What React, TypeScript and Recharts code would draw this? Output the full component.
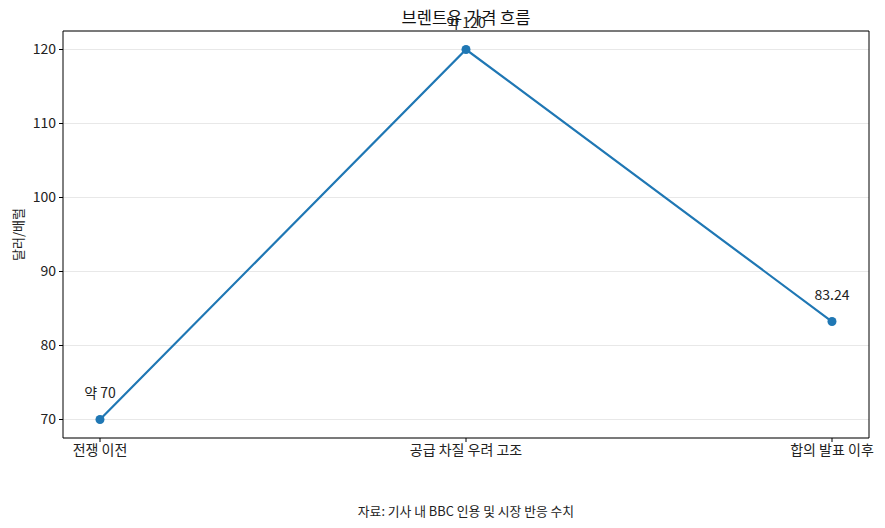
import React from "react";
import { LineChart, Line, XAxis, YAxis, CartesianGrid, LabelList } from "recharts";

const categories = ["전쟁 이전", "공급 차질 우려 고조", "합의 발표 이후"];
const prices = [70, 120, 83.24];
const pointLabels = ["약 70", "약 120", "83.24"];
const yTicks = [70, 80, 90, 100, 110, 120];

const data = categories.map((c, i) => ({ name: c, price: prices[i], label: pointLabels[i] }));

const FONT = "'Noto Sans CJK KR', 'Noto Sans', sans-serif";
const BLUE = "#1f77b4";

const PointLabel = (props: any) => {
  const { x, y, value } = props;
  return (
    <text x={x} y={y - 22} textAnchor="middle" fontSize={14} fill="#222" fontFamily={FONT}>
      {value}
    </text>
  );
};

const YLabel = (props: any) => {
  const vb = props.viewBox || {};
  const cy = (vb.y ?? 31) + (vb.height ?? 407) / 2;
  const cx = 17;
  return (
    <text x={cx} y={cy} transform={`rotate(-90, ${cx}, ${cy})`} textAnchor="middle" dominantBaseline="central" fontSize={13} fill="#222" fontFamily={FONT}>
      달러/배럴
    </text>
  );
};

export default function App() {
  return (
    <div style={{ position: "absolute", left: 0, top: 0, width: 885, height: 528, background: "#fff", fontFamily: FONT }}>
      <div style={{ position: "absolute", left: 0, width: 932, top: 5, textAlign: "center", fontSize: 16.5, color: "#111", lineHeight: "24px" }}>
        브렌트유 가격 흐름
      </div>
      <LineChart width={885} height={528} data={data} margin={{ top: 31, right: 16, bottom: 60, left: 8 }}>
        <CartesianGrid horizontal={true} vertical={false} stroke="#e8e8e8" strokeWidth={1} />
        <CartesianGrid
          horizontal={true}
          vertical={true}
          stroke="#000"
          strokeWidth={1}
          horizontalCoordinatesGenerator={({ offset }: any) => [offset.top]}
          verticalCoordinatesGenerator={({ offset }: any) => [offset.left + offset.width]}
        />
        <XAxis
          dataKey="name"
          padding={{ left: 37, right: 37 }}
          height={30}
          tickSize={4}
          tickMargin={3}
          axisLine={{ stroke: "#000", strokeWidth: 1 }}
          tickLine={{ stroke: "#000" }}
          tick={{ fontSize: 14, fill: "#222", fontFamily: FONT }}
          interval={0}
        />
        <YAxis
          width={55}
          domain={[67.5, 122.5]}
          ticks={yTicks}
          type="number"
          tickSize={4}
          tickMargin={3}
          axisLine={{ stroke: "#000", strokeWidth: 1 }}
          tickLine={{ stroke: "#000" }}
          tick={{ fontSize: 14, fill: "#222", fontFamily: FONT }}
          label={<YLabel />}
        />
        <Line
          type="linear"
          dataKey="price"
          stroke={BLUE}
          strokeWidth={2.2}
          dot={{ r: 4.5, fill: BLUE, stroke: BLUE, strokeWidth: 0 }}
          activeDot={false}
          isAnimationActive={false}
        >
          <LabelList dataKey="label" content={<PointLabel />} />
        </Line>
      </LineChart>
      <div style={{ position: "absolute", left: 0, width: 932, top: 501, textAlign: "center", fontSize: 12.8, color: "#222", lineHeight: "20px" }}>
        자료: 기사 내 BBC 인용 및 시장 반응 수치
      </div>
    </div>
  );
}
